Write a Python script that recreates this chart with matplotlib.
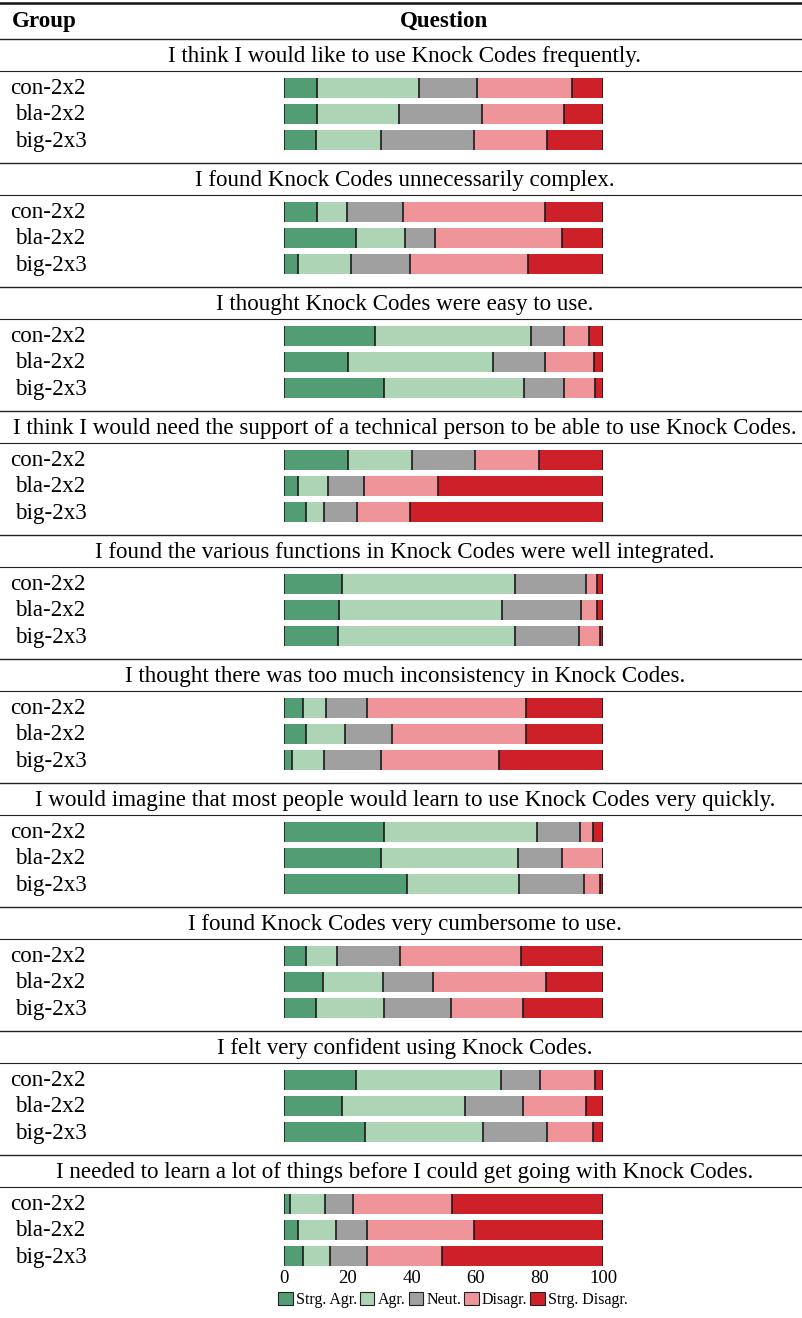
import matplotlib
matplotlib.use("Agg")
import matplotlib.pyplot as plt
import matplotlib.transforms as mtransforms
from matplotlib.patches import Patch
import numpy as np

plt.rcParams['font.family'] = ['Liberation Serif', 'DejaVu Serif']

questions = [
    "I think I would like to use Knock Codes frequently.",
    "I found Knock Codes unnecessarily complex.",
    "I thought Knock Codes were easy to use.",
    "I think I would need the support of a technical person to be able to use Knock Codes.",
    "I found the various functions in Knock Codes were well integrated.",
    "I thought there was too much inconsistency in Knock Codes.",
    "I would imagine that most people would learn to use Knock Codes very quickly.",
    "I found Knock Codes very cumbersome to use.",
    "I felt very confident using Knock Codes.",
    "I needed to learn a lot of things before I could get going with Knock Codes.",
]
groups = ["con-2x2", "bla-2x2", "big-2x3"]
answers = ["Strg. Agr.", "Agr.", "Neut.", "Disagr.", "Strg. Disagr."]
colors = ["#539d75", "#acd4b5", "#a0a0a0", "#ef9599", "#ce2029"]

# percentages per question, rows = groups, cols = answers
q1 = [[10.4, 31.8, 18.2, 30.0, 9.6], [10.4, 25.8, 25.8, 25.9, 12.1], [10.1, 20.2, 29.4, 22.7, 17.6]]
q2 = [[10.4, 9.5, 17.3, 44.7, 18.1], [22.6, 15.4, 9.4, 39.6, 13.0], [4.3, 16.8, 18.4, 37.0, 23.5]]
q3 = [[28.6, 48.9, 10.4, 7.7, 4.4], [20.0, 45.4, 16.5, 15.4, 2.7], [31.2, 44.0, 12.6, 9.6, 2.6]]
q4 = [[20.0, 20.0, 20.0, 20.0, 20.0], [4.4, 9.4, 11.3, 23.2, 51.7], [6.9, 5.7, 10.3, 16.6, 60.5]]
q5 = [[18.2, 54.2, 22.4, 3.4, 1.8], [17.3, 50.9, 24.9, 5.1, 1.8], [16.9, 55.4, 20.2, 6.7, 0.8]]
q6 = [[6.1, 7.0, 12.9, 50.0, 24.0], [6.9, 12.1, 14.8, 42.2, 24.0], [2.6, 10.0, 17.7, 37.0, 32.7]]
q7 = [[31.2, 48.0, 13.6, 4.1, 3.1], [30.3, 43.0, 13.9, 12.8, 0.0], [38.6, 35.2, 20.3, 5.0, 0.9]]
q8 = [[7.0, 9.5, 19.8, 37.9, 25.8], [12.1, 19.0, 15.6, 35.3, 18.0], [10.1, 21.1, 21.0, 22.6, 25.2]]
q9 = [[22.6, 45.5, 12.2, 17.1, 2.6], [18.2, 38.6, 18.2, 19.8, 5.2], [25.3, 37.0, 20.1, 14.4, 3.2]]
q10 = [[1.9, 11.1, 8.6, 31.0, 47.4], [4.3, 12.1, 9.5, 33.6, 40.5], [5.9, 8.4, 11.8, 23.4, 50.5]]
data = [q1, q2, q3, q4, q5, q6, q7, q8, q9, q10]

W, H = 803, 1318
fig = plt.figure(figsize=(W / 100, H / 100), dpi=100)
ax = fig.add_axes([284 / W, (H - 1266) / H, 319 / W, 1266 / H])
ax.set_xlim(0, 100)
ax.set_ylim(1266, 0)
for s in ax.spines.values():
    s.set_visible(False)
ax.set_yticks([])
ax.set_xticks([0, 20, 40, 60, 80, 100])
ax.tick_params(axis='x', length=0, pad=3, labelsize=13.5)

trans = mtransforms.blended_transform_factory(fig.transFigure, ax.transData)
fs = 16.6

first, period, step = 88, 124, 26
for qi, (q, vals) in enumerate(zip(questions, data)):
    c = first + period * qi
    ax.plot([0, 1], [c - 49, c - 49], transform=trans, color='#222222', lw=1.0, clip_on=False)
    ax.plot([0, 1], [c - 17, c - 17], transform=trans, color='#222222', lw=0.8, clip_on=False)
    ax.text(405 / W, c - 26, q, transform=trans, ha='center', va='baseline', fontsize=fs)
    for gi, g in enumerate(groups):
        y = c + step * gi
        ax.text((10 if gi == 0 else 15) / W, y + 6.5, g, transform=trans, ha='left', va='baseline', fontsize=fs)
        row = np.array(vals[gi])
        lefts = np.concatenate([[0], np.cumsum(row)[:-1]])
        for k in range(5):
            ax.barh(y, row[k], left=lefts[k], height=20, color=colors[k], linewidth=0)
        ax.vlines(list(lefts) + [row.sum()], y - 10, y + 10, color='#1a1a1a', lw=1.2)

# header
ax.plot([0, 1], [3, 3], transform=trans, color='#111111', lw=1.8, clip_on=False)
ax.text(12 / W, 27, "Group", transform=trans, ha='left', va='baseline', fontsize=fs, fontweight='bold')
ax.text(444 / W, 27, "Question", transform=trans, ha='center', va='baseline', fontsize=fs, fontweight='bold')

handles = [Patch(facecolor=col, edgecolor='#222222', linewidth=0.8) for col in colors]
fig.legend(handles, answers, loc='center', bbox_to_anchor=(453 / W, 1 - 1300 / H), ncol=5,
           frameon=False, fontsize=11.5, handlelength=0.9, handleheight=0.9,
           handletextpad=0.2, columnspacing=0.2, borderpad=0)

fig.savefig("out.png", dpi=100)
